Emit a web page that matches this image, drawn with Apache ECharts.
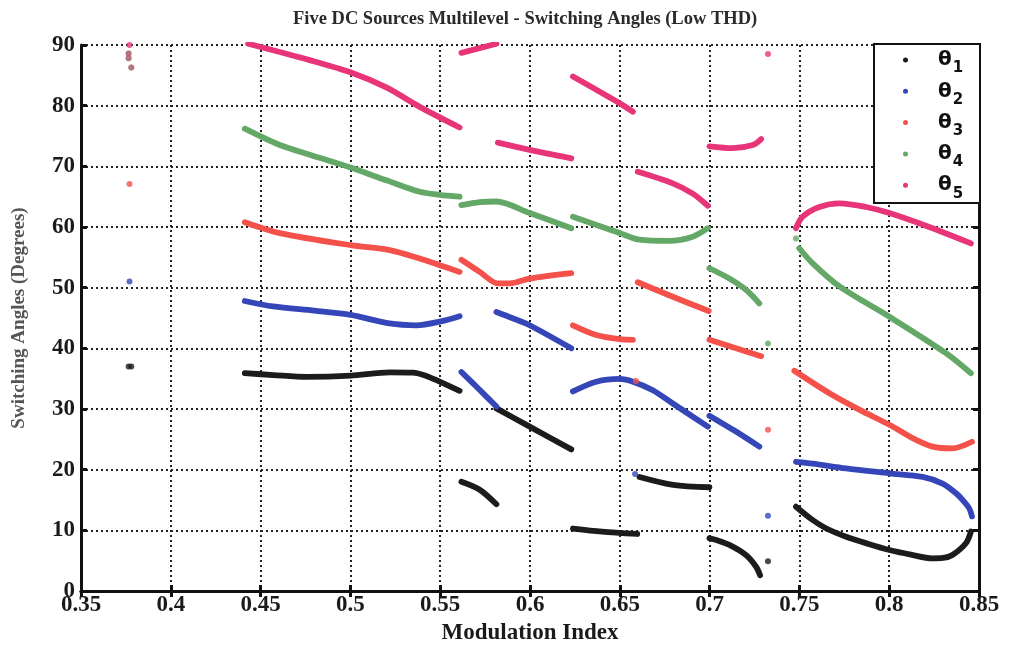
<!DOCTYPE html>
<html>
<head>
<meta charset="utf-8">
<script src="https://cdn.jsdelivr.net/npm/echarts@6/dist/echarts.min.js"></script>
<style>
  html, body { margin: 0; padding: 0; background: #fff; }
  #chart { width: 1009px; height: 646px; }
</style>
</head>
<body>
<div id="chart"></div>
<script>
// Axis ranges and tick steps
const xTicks = { min: 0.35, max: 0.85, step: 0.05 };
const yTicks = { min: 0, max: 90, step: 10 };

// Switching angle branches: each inner array is one continuous branch of [modulation index, angle]
const theta1Segments = [
  [[0.4412,35.9],[0.457,35.6],[0.4756,35.3],[0.5002,35.5],[0.5219,36.05],[0.5347,36.0],[0.542,35.5],[0.5497,34.5],[0.5608,33.0]],
  [[0.5618,18.0],[0.572,16.7],[0.5813,14.3]],
  [[0.5813,30.1],[0.5998,27.1],[0.623,23.35]],
  [[0.6239,10.3],[0.64,9.8],[0.6597,9.4]],
  [[0.661,18.8],[0.6797,17.5],[0.6999,17.1]],
  [[0.6999,8.7],[0.7037,8.4],[0.711,7.6],[0.7204,5.9],[0.7259,4.0],[0.7281,2.6]],
  [[0.7481,13.9],[0.7574,11.7],[0.765,10.3],[0.776,8.95],[0.788,7.8],[0.8001,6.76],[0.812,6.0],[0.8241,5.38],[0.83,5.45],[0.8352,5.93],[0.8427,7.86],[0.8455,9.8]]
];
const theta1Dots = [[0.3765,37.0],[0.378,37.0],[0.7325,4.9]];

const theta2Segments = [
  [[0.4412,47.8],[0.457,46.9],[0.48,46.2],[0.5002,45.5],[0.5219,44.1],[0.5367,43.8],[0.5497,44.4],[0.5608,45.3]],
  [[0.5618,36.1],[0.5715,33.3],[0.5813,30.4]],
  [[0.5813,46.0],[0.59,45.0],[0.5998,43.8],[0.623,40.0]],
  [[0.6239,32.9],[0.6369,34.5],[0.6499,34.95],[0.6573,34.5],[0.6684,33.1],[0.6795,30.9],[0.699,27.1]],
  [[0.6999,28.9],[0.714,26.4],[0.7277,23.8]],
  [[0.7481,21.3],[0.7574,21.0],[0.776,20.2],[0.8001,19.4],[0.8186,18.8],[0.8297,17.7],[0.8372,16.1],[0.8418,14.7],[0.8446,13.6],[0.8461,12.3]]
];
const theta2Dots = [[0.377,51.0],[0.6585,19.3],[0.7325,12.4]];

const theta3Segments = [
  [[0.4412,60.8],[0.4607,59.0],[0.5002,57.0],[0.5219,56.2],[0.5386,54.8],[0.5497,53.7],[0.5608,52.6]],
  [[0.5618,54.6],[0.572,52.6],[0.5821,50.7],[0.5887,50.7],[0.5998,51.5],[0.623,52.4]],
  [[0.6239,43.8],[0.6369,42.2],[0.6499,41.5],[0.6573,41.4]],
  [[0.66,50.9],[0.6795,48.5],[0.6995,46.15]],
  [[0.6999,41.4],[0.7287,38.7]],
  [[0.7472,36.3],[0.7667,32.6],[0.7852,29.6],[0.8001,27.4],[0.813,25.2],[0.8241,23.8],[0.8352,23.5],[0.8461,24.6]]
];
const theta3Dots = [[0.377,67.1],[0.659,34.6],[0.7325,26.6]];

const theta4Segments = [
  [[0.4412,76.2],[0.46,73.6],[0.4774,71.9],[0.5,69.8],[0.52,67.7],[0.5386,65.8],[0.5497,65.3],[0.5608,65.0]],
  [[0.5618,63.6],[0.572,64.1],[0.5813,64.2],[0.5998,62.3],[0.623,59.8]],
  [[0.6239,61.7],[0.6499,59.0],[0.661,57.9],[0.6777,57.7],[0.6906,58.4],[0.699,59.8]],
  [[0.6999,53.2],[0.711,51.5],[0.7204,49.6],[0.7277,47.4]],
  [[0.7499,56.5],[0.7574,54.0],[0.7723,50.2],[0.8001,45.2],[0.8316,39.2],[0.8455,35.9]]
];
const theta4Dots = [[0.3765,88.6],[0.3765,87.8],[0.378,86.3],[0.7325,40.8],[0.7481,58.1]];

const theta5Segments = [
  [[0.4431,90.2],[0.4774,87.5],[0.5,85.5],[0.52,83.0],[0.5386,79.8],[0.5608,76.4]],
  [[0.5618,88.7],[0.5813,90.2]],
  [[0.5821,73.9],[0.5998,72.7],[0.623,71.3]],
  [[0.6239,84.8],[0.6499,80.4],[0.6573,79.0]],
  [[0.66,69.1],[0.6795,67.2],[0.6906,65.5],[0.699,63.5]],
  [[0.6999,73.3],[0.7129,73.0],[0.724,73.5],[0.7287,74.5]],
  [[0.7481,59.8],[0.7518,61.7],[0.7611,63.3],[0.7723,63.9],[0.7871,63.3],[0.8001,62.3],[0.8223,60.0],[0.8455,57.3]]
];
const theta5Dots = [[0.377,90.0],[0.6587,90.2],[0.7325,88.5]];
// points where the 4th and 5th angles coincide
const theta5Shared = [[0.3765,88.6],[0.3765,87.8],[0.378,86.3]];

const seriesNames = ['θ1', 'θ2', 'θ3', 'θ4', 'θ5'];
const seriesColors = ['#1c1c1c', '#3547b8', '#f4514b', '#63a866', '#e8357a'];

// join branches into one line with gaps between them
function joinBranches(segments) {
  const out = [];
  segments.forEach((seg, i) => {
    if (i > 0) out.push(['-', '-']);
    seg.forEach(p => out.push(p));
  });
  return out;
}

const allSegments = [theta1Segments, theta2Segments, theta3Segments, theta4Segments, theta5Segments];
const allDots = [theta1Dots, theta2Dots, theta3Dots, theta4Dots, theta5Dots];

const serif = '"Liberation Serif", "DejaVu Serif", serif';
const series = [];
seriesNames.forEach((name, i) => {
  series.push({
    name: name,
    type: 'line',
    data: joinBranches(allSegments[i]),
    smooth: 0.3,
    showSymbol: false,
    connectNulls: false,
    color: seriesColors[i],
    lineStyle: { width: 5.8, color: seriesColors[i], cap: 'round', join: 'round' },
    emphasis: { disabled: true },
    z: 3
  });
  series.push({
    name: name,
    type: 'scatter',
    data: allDots[i],
    symbol: 'circle',
    symbolSize: 6,
    color: seriesColors[i],
    itemStyle: { color: seriesColors[i] },
    emphasis: { disabled: true },
    z: 4
  });
});
series.push({
  name: 'θ5',
  type: 'scatter',
  data: theta5Shared,
  symbol: 'circle',
  symbolSize: 6,
  itemStyle: { color: seriesColors[4], opacity: 0.5 },
  emphasis: { disabled: true },
  z: 5
});

const gridLine = { show: true, lineStyle: { color: '#222', width: 2, type: [2, 3] } };
const axisLabelStyle = { fontFamily: serif, fontWeight: 'bold', fontSize: 23, color: '#1a1a1a' };

const chart = echarts.init(document.getElementById('chart'), null, { renderer: 'canvas' });
chart.setOption({
  animation: false,
  backgroundColor: '#fff',
  title: {
    text: 'Five DC Sources Multilevel - Switching Angles (Low THD)',
    left: 288,
    top: 5,
    textStyle: { fontFamily: serif, fontWeight: 'bold', fontSize: 18.5, color: '#2a2a2a' }
  },
  grid: { left: 81, right: 30, top: 45, bottom: 55, containLabel: false, outerBoundsMode: 'none' },
  xAxis: [{
    type: 'value',
    min: xTicks.min, max: xTicks.max, interval: xTicks.step,
    name: 'Modulation Index',
    nameLocation: 'middle',
    nameGap: 31,
    nameTextStyle: { fontFamily: serif, fontWeight: 'bold', fontSize: 23, color: '#1a1a1a' },
    axisLine: { show: true, lineStyle: { color: '#111', width: 3 } },
    axisTick: { show: true, inside: true, length: 6, lineStyle: { color: '#111', width: 3 } },
    axisLabel: Object.assign({ margin: 3, formatter: v => String(+v.toFixed(2)) }, axisLabelStyle),
    splitLine: gridLine
  }, {
    type: 'value', position: 'top',
    min: xTicks.min, max: xTicks.max, interval: xTicks.step,
    axisLine: { show: true, lineStyle: { color: '#111', width: 3 } },
    axisTick: { show: true, inside: true, length: 6, lineStyle: { color: '#111', width: 3 } },
    axisLabel: { show: false },
    splitLine: { show: false }
  }],
  yAxis: [{
    type: 'value',
    min: yTicks.min, max: yTicks.max, interval: yTicks.step,
    name: 'Switching Angles (Degrees)',
    nameLocation: 'middle',
    nameGap: 52,
    nameTextStyle: { fontFamily: serif, fontWeight: 'bold', fontSize: 19, color: '#555' },
    axisLine: { show: true, lineStyle: { color: '#111', width: 3 } },
    axisTick: { show: true, inside: true, length: 6, lineStyle: { color: '#111', width: 3 } },
    axisLabel: Object.assign({ margin: 6 }, axisLabelStyle),
    splitLine: gridLine
  }, {
    type: 'value', position: 'right',
    min: yTicks.min, max: yTicks.max, interval: yTicks.step,
    axisLine: { show: true, lineStyle: { color: '#111', width: 3 } },
    axisTick: { show: true, inside: true, length: 6, lineStyle: { color: '#111', width: 3 } },
    axisLabel: { show: false },
    splitLine: { show: false }
  }],
  graphic: [{
    type: 'rect',
    left: 873, top: 43,
    shape: { width: 106, height: 159 },
    style: { fill: '#fff', stroke: '#111', lineWidth: 2 },
    z: 50
  }],
  legend: {
    data: seriesNames,
    orient: 'vertical',
    left: 903,
    top: 50,
    padding: 0,
    itemGap: 5.3,
    itemWidth: 5,
    itemHeight: 5,
    icon: 'circle',
    z: 60,
    selectedMode: false,
    formatter: n => '{t|θ}{s|' + n.slice(1) + '}',
    textStyle: {
      padding: [0, 0, 2, 0],
      rich: {
        t: { fontFamily: '"DejaVu Sans", sans-serif', fontWeight: 'bold', fontSize: 20, lineHeight: 18, padding: [0, 0, 0, 25], verticalAlign: 'top', color: '#111' },
        s: { fontFamily: '"DejaVu Sans", sans-serif', fontWeight: 'bold', fontSize: 15, lineHeight: 12, padding: [11, 0, 0, 1], verticalAlign: 'top', color: '#111' }
      }
    }
  },
  series: series
});
</script>
</body>
</html>
